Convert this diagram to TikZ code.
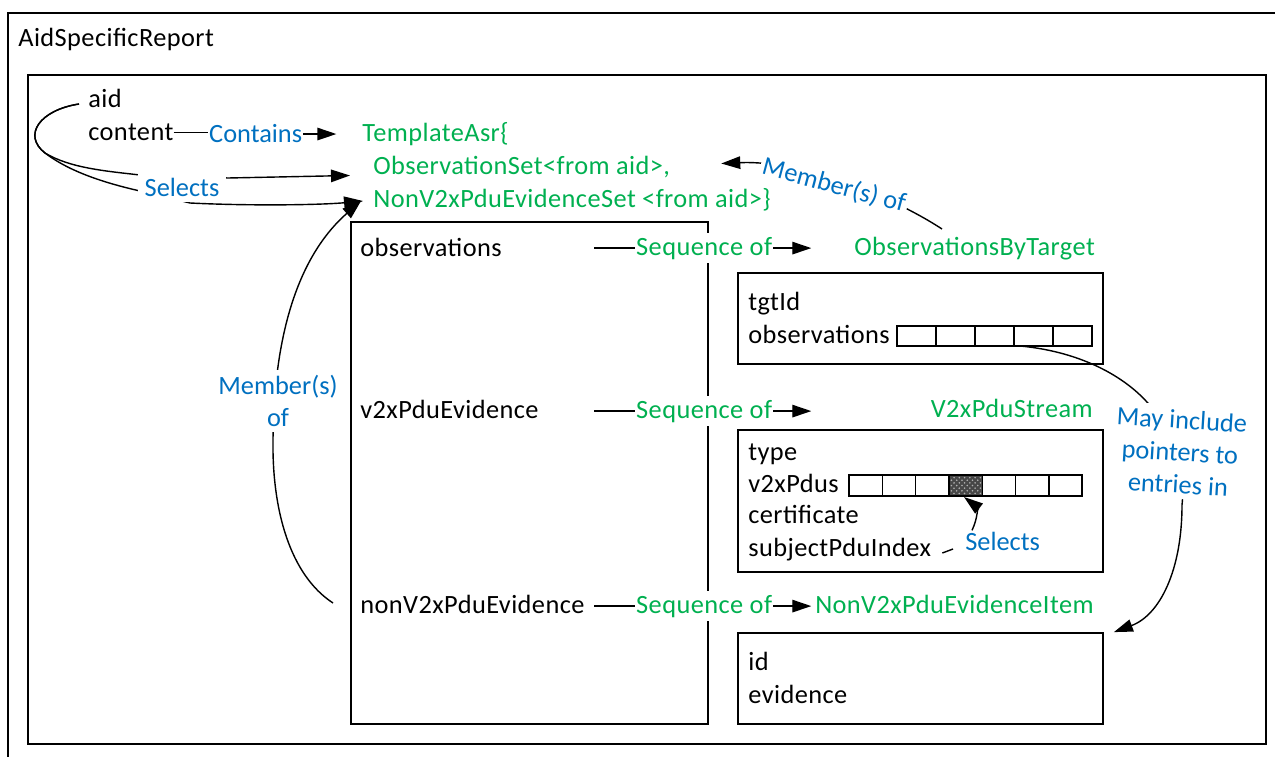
\documentclass[tikz,border=0pt]{standalone}
\usepackage{fontspec}
\setmainfont{Carlito}[LetterSpace=1.6]
\newfontfamily\labelfont{Carlito}
\usetikzlibrary{arrows.meta,calc,fit,patterns}
\definecolor{lblblue}{HTML}{0070C0}
\definecolor{typegreen}{HTML}{00B050}
\pgfdeclarelayer{wires}
\pgfsetlayers{wires,main}
\begin{document}
\begin{tikzpicture}[x=0.02cm,y=-0.02cm,
  font=\fontsize{15}{18.4}\selectfont,
  txt/.style={inner sep=0pt, anchor=base west},
  typ/.style={txt, text=typegreen},
  lbl/.style={text=lblblue, font=\labelfont\fontsize{15}{18.4}\selectfont},
  cover/.style={fill=white},
  seqlbl/.style={txt, text=typegreen, fill=white, inner xsep=0.5pt, inner ysep=2pt},
  box/.style={draw, line width=1pt, inner sep=0pt},
  cell/.style={draw, line width=0.8pt},
  wire/.style={line width=0.8pt},
  arr/.style={wire, -{Triangle[length=0.38cm,width=0.25cm]}},
]
\useasboundingbox (0,0) rectangle (1275,757);

% outer frame, running off the page at right and bottom
\begin{scope}
  \clip (0,0) rectangle (1275,757);
  \draw[line width=1pt] (8,13) rectangle (1300,790);
\end{scope}
\node[txt] (title) at (18,47) {AidSpecificReport};

% containers
\node[box, fit={(28,75) (1266,744)}] (inner) {};
\node[box, fit={(351,222) (708,724)}] (setbox) {};
\node[box, fit={(738,273) (1103,364)}] (tgtbox) {};
\node[box, fit={(738,430) (1103,572)}] (streambox) {};
\node[box, fit={(738,633) (1103,724)}] (itembox) {};

% observations array
\foreach \i in {0,...,4} \draw[cell] (897+39*\i,326) rectangle ++(39,20);
\coordinate (obsref) at (1020,346);

% v2xPdus array with the selected entry
\fill[black!72] (949,475) rectangle ++(33.3,21);
\fill[pattern=crosshatch dots, pattern color=black!30] (949,475) rectangle ++(33.3,21);
\foreach \i in {0,...,6} \draw[cell] (849+33.3*\i,475) rectangle ++(33.3,21);
\coordinate (pdusel) at (964,497);

% labels that sit on top of their connectors
\node[lbl, cover, anchor=base, inner xsep=4pt, inner ysep=3.5pt] (selA) at (182,196) {Selects};
\node[lbl, cover, rotate=-15, anchor=base, inner sep=1.5pt] (memtop) at (832,193) {Member(s) of};
\node[lbl, cover, align=center, inner sep=3pt] (memleft) at (278,401) {Member(s)\\of};
\node[lbl, cover, align=center, rotate=-3.5, inner sep=3pt] (mayinc) at (1180,452) {May include\\pointers to\\entries in};
\node[seqlbl] (seqobs) at (635,255) {Sequence of};
\node[seqlbl] (seqv2x) at (635,418) {Sequence of};
\node[seqlbl] (seqnon) at (635,613) {Sequence of};

% AidSpecificReport fields
\node[txt] (aid) at (88,108) {aid};
\node[txt] (content) at (88,141) {content};
\node[txt, lbl, inner xsep=0.5pt] (contains) at (208,143) {Contains};
\node[typ] (templ) at (362,142) {TemplateAsr\{};
\node[typ] (obsset) at (373,174.5) {ObservationSet<from aid>,};
\node[typ] (nonset) at (373,207) {NonV2xPduEvidenceSet <from aid>\}};

% TemplateAsr fields
\node[txt] (obs) at (360,256) {observations};
\node[txt] (v2x) at (360,418) {v2xPduEvidence};
\node[txt] (nonv2x) at (360,613) {nonV2xPduEvidence};

% element types
\node[typ] (obt) at (854,255) {ObservationsByTarget};
\node[typ, anchor=base east] (stream) at (1093,417) {V2xPduStream};
\node[typ, anchor=base east] (item) at (1094,613) {NonV2xPduEvidenceItem};

\node[txt] (fTgt) at (748,310) {tgtId};
\node[txt] (fObs) at (748,343) {observations};
\node[txt] (fType) at (748,460) {type};
\node[txt] (fPdus) at (748,492) {v2xPdus};
\node[txt] (fCert) at (748,523) {certificate};
\node[txt] (subj) at (748,556) {subjectPduIndex};
\node[txt, lbl] (selB) at (965,550) {Selects};
\node[txt] (fId) at (748,670) {id};
\node[txt] (fEv) at (748,703) {evidence};

\begin{pgfonlayer}{wires}
  % content contains the template
  \draw[wire] (content.east) -- (content.east -| contains.west);
  \draw[arr] (contains.east) -- ++(33,0);

  % aid selects the two sets
  \coordinate (aidS) at ($(aid.base west)+(-9,-4)$);
  \draw[arr] (aidS) .. controls (40,110) and (22,135) .. (45,153)
    .. controls (70,168) and (105,171) .. (140,175) -- (228,178)
    -- ($(obsset.base west)+(-23,1)$);
  \draw[arr] (aidS) .. controls (40,110) and (22,135) .. (45,153)
    .. controls (70,172) and (105,183) .. (140,191) -- (190,203)
    .. controls (250,206) and (320,205) .. ($(nonset.base west)+(-10,-6)$);

  % sequences
  \draw[wire] ($(seqobs.west)+(-41,0)$) -- (seqobs.west);
  \draw[arr] (seqobs.east) -- ++(38,0);
  \draw[wire] ($(seqv2x.west)+(-41,0)$) -- (seqv2x.west);
  \draw[arr] (seqv2x.east) -- ++(38,0);
  \draw[wire] ($(seqnon.west)+(-41,0)$) -- (seqnon.west);
  \draw[arr] (seqnon.east) -- ++(38,0);

  % membership
  \draw[arr] ($(nonv2x.base west)+(-27,-10)$) .. controls (290,575) and (272,510) .. (273,440)
    .. controls (274,320) and (305,250) .. ($(nonset.base west)+(-12,-6)$);
  \draw[arr] ($(obt.base west)+(88,-26)$) .. controls (890,195) and (800,160)
    .. ($(obsset.base east)+(51,-11)$);

  % observation pointers into the evidence items
  \draw[arr] (obsref) .. controls (1085,352) and (1130,380) .. (1152,408)
    .. controls (1172,438) and (1186,470) .. (1182,505)
    .. controls (1182,570) and (1160,615) .. ($(itembox.north east)+(10,0)$);

  % subject PDU selection
  \draw[wire] ($(subj.base east)+(11,-3)$) -- ($(selB.base west)+(-12,-1)$);
  \draw[arr] ($(selB.north west)+(7,-1)$) .. controls (978,518) and (977,507) .. (pdusel);
\end{pgfonlayer}
\end{tikzpicture}
\end{document}
